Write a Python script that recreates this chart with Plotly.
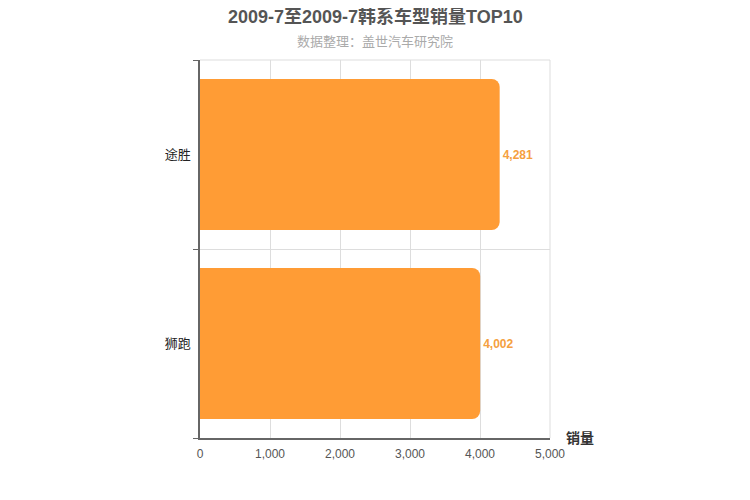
import plotly.graph_objects as go

categories = ["狮跑", "途胜"]
sales = [4002, 4281]
x_ticks = [0, 1000, 2000, 3000, 4000, 5000]
x_tick_labels = ["0", "1,000", "2,000", "3,000", "4,000", "5,000"]

title_text = "2009-7至2009-7韩系车型销量TOP10"
subtitle_text = "数据整理：盖世汽车研究院"
axis_name = "销量"

font_family = "Liberation Sans, Noto Sans CJK SC, sans-serif"
bar_color = "#FF9C35"

# page has an 8px body offset; compensate
OFF = 8
ML, MT = 200 - OFF, 60 - OFF
MR, MB = 750 - 550 + OFF, 500 - 438 + OFF

fig = go.Figure()
fig.add_trace(go.Bar(
    x=sales,
    y=categories,
    orientation="h",
    marker=dict(color=bar_color, line=dict(width=0)),
    text=[f"{v:,}" for v in sales],
    textposition="outside",
    textfont=dict(color="#F5A040", size=12, family=font_family, weight="bold"),
    cliponaxis=False,
    hoverinfo="skip",
))

plot_h = 500 - MT - MB

fig.update_layout(
    width=750, height=500,
    margin=dict(l=ML, r=MR, t=MT, b=MB),
    paper_bgcolor="white", plot_bgcolor="white",
    bargap=0.2,
    barcornerradius=8,
    showlegend=False,
    font=dict(family=font_family),
    xaxis=dict(
        range=[0, 5000],
        tickvals=x_ticks, ticktext=x_tick_labels,
        showgrid=True, gridcolor="#DDDDDD", gridwidth=1,
        showline=True, linecolor="#666666", linewidth=1.5,
        ticks="", zeroline=False,
        tickfont=dict(size=12, color="#555555"),
        ticklabelstandoff=4,
        fixedrange=True,
    ),
    yaxis=dict(
        type="category",
        tickson="boundaries",
        showgrid=True, gridcolor="#DDDDDD", gridwidth=1,
        showline=True, linecolor="#666666", linewidth=1.5,
        ticks="outside", ticklen=5, tickcolor="#666666",
        tickfont=dict(size=13, color="#222222"),
        zeroline=False,
        fixedrange=True,
        ticklabelstandoff=5,
    ),
    shapes=[
        dict(type="line", xref="paper", yref="paper", x0=0, x1=1, y0=1, y1=1,
             line=dict(color="#DDDDDD", width=1), layer="below"),
        dict(type="line", xref="paper", yref="paper", x0=1, x1=1, y0=0, y1=1,
             line=dict(color="#DDDDDD", width=1), layer="below"),
    ],
    annotations=[
        dict(text=f"<b>{title_text}</b>", x=0.5, y=1 + (60 - 16) / plot_h,
             xref="paper", yref="paper", yanchor="middle",
             showarrow=False, font=dict(size=18, color="#555555")),
        dict(text=subtitle_text, x=0.5, y=1 + (60 - 41) / plot_h,
             xref="paper", yref="paper", yanchor="middle",
             showarrow=False, font=dict(size=13, color="#AAAAAA")),
        dict(text=f"<b>{axis_name}</b>", x=1, y=0, xref="paper", yref="paper",
             xanchor="left", yanchor="bottom", xshift=14, yshift=-10,
             showarrow=False, font=dict(size=14, color="#333333")),
    ],
)

fig.write_html("out.html")
